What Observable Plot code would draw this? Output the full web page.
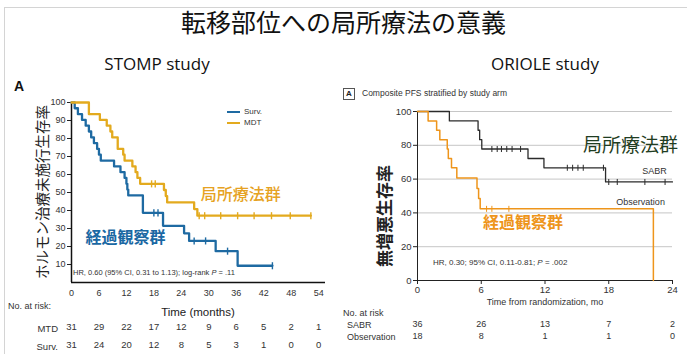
<!DOCTYPE html>
<html><head><meta charset="utf-8">
<script src="https://cdn.jsdelivr.net/npm/d3@7"></script>
<script src="https://cdn.jsdelivr.net/npm/@observablehq/plot@0.6"></script>
<style>
html,body{margin:0;padding:0;background:#fff;}
#wrap{position:relative;width:687px;height:354px;overflow:hidden;background:#fff;font-family:'Liberation Sans',Arial,sans-serif;color:#333;}
.t{position:absolute;white-space:nowrap;line-height:1;}
.rot{transform:translate(-50%,-50%) rotate(-90deg);}
.sv{position:absolute;top:70px;}
.jp{font-family:'Noto Sans CJK JP',sans-serif;}
.lg{display:inline-block;width:13px;height:0;vertical-align:middle;margin-right:4px;}
</style></head><body>
<div id="wrap">
 <div class="t" style="left:4px;top:7px;width:700px;height:400px;border:1px solid #d4d4d4;"></div>
 <div id="left" class="sv" style="left:0"></div>
 <div id="right" class="sv" style="left:340px"></div>

 <div class="t jp" style="left:0;top:9px;width:687px;text-align:center;font-size:25px;color:#111">転移部位への局所療法の意義</div>
 <div class="t" style="left:57px;width:200px;top:55px;text-align:center;font-family:'Open Sans';font-size:17px;color:#111">STOMP study</div>
 <div class="t" style="left:445px;width:200px;top:55px;text-align:center;font-family:'Open Sans';font-size:17px;color:#111">ORIOLE study</div>

 <!-- left panel texts -->
 <div class="t" style="left:14px;top:79px;font-size:14px;font-weight:bold;color:#111">A</div>
 <div class="t jp rot" style="left:42px;top:192px;font-size:14.5px;color:#222">ホルモン治療未施行生存率</div>
 <div class="t" style="left:227px;top:108px;font-size:8px;color:#333"><span class="lg" style="border-top:2.5px solid #1e6aa2"></span>Surv.</div>
 <div class="t" style="left:227px;top:119px;font-size:8px;color:#333"><span class="lg" style="border-top:2.5px solid #e3aa1e"></span>MDT</div>
 <div class="t" style="left:73px;top:269px;font-size:7.5px;color:#333">HR, 0.60 (95% CI, 0.31 to 1.13); log-rank <i>P</i> = .11</div>
 <div class="t" style="left:8px;top:302px;font-size:9px;color:#333">No. at risk:</div>
 <div class="t" style="left:0;width:58px;text-align:right;top:324px;font-size:9.5px;color:#333">MTD</div>
 <div class="t" style="left:0;width:58px;text-align:right;top:342px;font-size:9.5px;color:#333">Surv.</div>
 <div class="t" style="left:98px;width:200px;text-align:center;top:307px;font-size:11.5px;color:#222">Time (months)</div>

 <!-- right panel texts -->
 <div class="t" style="left:343px;top:88px;width:10px;height:10px;border:1px solid #555;font-size:8px;font-weight:bold;text-align:center;line-height:10px;color:#222">A</div>
 <div class="t" style="left:362px;top:89px;font-size:8.5px;color:#333">Composite PFS stratified by study arm</div>
 <div class="t jp rot" style="left:383px;top:216px;font-size:17px;font-weight:bold;color:#222">無増悪生存率</div>
 <div class="t" style="left:433px;top:259px;font-size:8px;color:#333">HR, 0.30; 95% CI, 0.11-0.81; <i>P</i> = .002</div>
 <div class="t" style="left:445px;width:200px;text-align:center;top:298px;font-size:9px;color:#333">Time from randomization, mo</div>
 <div class="t" style="left:343px;top:309px;font-size:9px;color:#333">No. at risk</div>
 <div class="t" style="left:347px;top:321px;font-size:9px;color:#333">SABR</div>
 <div class="t" style="left:347px;top:333px;font-size:9px;color:#333">Observation</div>
</div>
<script>
// ---------- STOMP study (left) ----------
const stompXTicks = [0, 6, 12, 18, 24, 30, 36, 42, 48, 54];
const stompYTicks = [10, 20, 30, 40, 50, 60, 70, 80, 90, 100];
const mdtTime = [0, 3.8, 6.2, 7.7, 8.5, 8.9, 10.1, 11.3, 11.6, 13.3, 14.0, 14.4, 15.0, 20.2, 20.6, 20.9, 26.8, 27.5];
const mdtSurv = [100, 93.5, 90.3, 87.1, 83.9, 80.6, 74.2, 71.0, 67.7, 64.5, 61.3, 58.1, 54.8, 51.4, 48.0, 44.5, 40.8, 37.1];
const mdtCensor = [17.5, 18.3, 27.9, 29.1, 32.6, 36.3, 39.9, 43.7, 47.8, 52.3];
const mdtEnd = 52.3;
const survTime = [0, 0.7, 1.4, 2.3, 3.1, 3.8, 4.3, 4.9, 5.6, 6.0, 6.4, 9.3, 10.7, 11.6, 12.0, 12.2, 12.4, 15.6, 20.0, 24.6, 25.7, 31.5, 36.3];
const survSurv = [100, 96.8, 93.5, 90.3, 87.1, 83.9, 80.6, 77.4, 74.2, 71.0, 67.7, 64.5, 61.3, 58.1, 54.8, 51.6, 48.4, 38.7, 31.5, 27.3, 23.1, 17.4, 9.3];
const survCensor = [18.0, 18.9, 26.8, 29.3, 34.1, 43.9];
const survEnd = 43.9;
const mtdRisk = [31, 29, 22, 17, 12, 9, 6, 5, 2, 1];
const survRisk = [31, 24, 20, 12, 8, 5, 3, 1, 0, 0];

// ---------- ORIOLE study (right) ----------
const oriXTicks = [0, 6, 12, 18, 24];
const oriYTicks = [0, 20, 40, 60, 80, 100];
const sabrTime = [0, 3.0, 5.7, 5.85, 6.05, 10.4, 11.9, 17.7];
const sabrSurv = [100, 94.4, 88.9, 83.3, 77.8, 72.2, 66.7, 58.3];
const sabrCensor = [7.0, 7.5, 7.9, 8.4, 8.9, 9.7, 14.1, 14.6, 15.1, 15.6, 17.5, 18.0, 18.8, 21.4, 23.3];
const sabrEnd = 24;
const obsTime = [0, 1.0, 1.8, 2.1, 2.8, 2.9, 3.2, 3.7, 5.6, 5.75, 5.9, 22.2];
const obsSurv = [100, 94.4, 88.9, 83.3, 77.8, 72.2, 66.7, 60.6, 54.5, 48.5, 42.4, 0];
const obsCensor = [6.5, 7.0, 8.6];
const obsEnd = 22.2;
const sabrRisk = [36, 26, 13, 7, 2];
const obsRisk = [18, 8, 1, 1, 0];

const gold = "#e3aa1e", blue = "#1e6aa2", sabrCol = "#2b2b2b", obsCol = "#ee951b";

function kmLine(times, survs, end) {
  const pts = times.map((t, i) => ({t, s: survs[i]}));
  pts.push({t: end, s: survs[survs.length - 1]});
  return pts;
}
function censorPts(times, survs, cens) {
  return cens.map(t => ({t, s: survs[d3.bisectRight(times, t) - 1]}));
}
const vbar = {draw(ctx, size) { const r = Math.sqrt(size) / 2; ctx.moveTo(0, -r); ctx.lineTo(0, r); }};

const L = Plot.plot({
  width: 340, height: 284,
  marginLeft: 71, marginRight: 15, marginTop: 32, marginBottom: 72,
  style: {background: "transparent", fontFamily: "'Liberation Sans', Arial, sans-serif", color: "#333", overflow: "visible"},
  x: {domain: [0, 55.5]},
  y: {domain: [0, 100]},
  marks: [
    Plot.axisY({ticks: stompYTicks, tickSize: 4, tickPadding: 2, fontSize: 9, label: null, stroke: "#222"}),
    Plot.axisX({ticks: stompXTicks, tickSize: 0, tickPadding: 7, fontSize: 9, label: null}),
    Plot.ruleY([0], {stroke: "#111", strokeWidth: 1.5}),
    Plot.ruleX([0], {stroke: "#111", strokeWidth: 1.5}),
    Plot.line(kmLine(survTime, survSurv, survEnd), {x: "t", y: "s", curve: "step-after", stroke: blue, strokeWidth: 2.3}),
    Plot.line(kmLine(mdtTime, mdtSurv, mdtEnd), {x: "t", y: "s", curve: "step-after", stroke: gold, strokeWidth: 2.3}),
    Plot.dot(censorPts(survTime, survSurv, survCensor), {x: "t", y: "s", symbol: vbar, r: 4, stroke: blue, strokeWidth: 1.4}),
    Plot.dot(censorPts(mdtTime, mdtSurv, mdtCensor), {x: "t", y: "s", symbol: vbar, r: 4, stroke: gold, strokeWidth: 1.4}),
    Plot.text(mtdRisk, {x: (d, i) => stompXTicks[i], text: d => String(d), frameAnchor: "bottom", dy: 47, fontSize: 9.5, fill: "#333"}),
    Plot.text(survRisk, {x: (d, i) => stompXTicks[i], text: d => String(d), frameAnchor: "bottom", dy: 65, fontSize: 9.5, fill: "#333"}),
    Plot.text(["局所療法群"], {x: 37, y: 48.6, fontSize: 16, fontWeight: 500, fill: "#e6a223", fontFamily: "'Noto Sans CJK JP'"}),
    Plot.text(["経過観察群"], {x: 11.8, y: 24.7, fontSize: 16, fontWeight: "bold", fill: "#1a68a3", fontFamily: "'Noto Sans CJK JP'"})
  ]
});
document.getElementById("left").appendChild(L);

const R = Plot.plot({
  width: 347, height: 284,
  marginLeft: 77, marginRight: 15, marginTop: 41, marginBottom: 74,
  style: {background: "transparent", fontFamily: "'Liberation Sans', Arial, sans-serif", color: "#333", overflow: "visible"},
  x: {domain: [0, 24]},
  y: {domain: [0, 100]},
  marks: [
    Plot.gridY({ticks: oriYTicks.filter(v => v > 0), stroke: "#b8b8b8", strokeOpacity: 1, strokeWidth: 0.8}),
    Plot.axisY({ticks: oriYTicks, tickSize: 4, tickPadding: 2, fontSize: 9.5, label: null, stroke: "#222"}),
    Plot.axisX({ticks: oriXTicks, tickSize: 4, tickPadding: 2, fontSize: 9.5, label: null, stroke: "#222"}),
    Plot.ruleY([0], {stroke: "#222", strokeWidth: 1}),
    Plot.ruleX([0], {stroke: "#222", strokeWidth: 1}),
    Plot.line(kmLine(sabrTime, sabrSurv, sabrEnd), {x: "t", y: "s", curve: "step-after", stroke: sabrCol, strokeWidth: 1.3}),
    Plot.line(kmLine(obsTime, obsSurv, obsEnd), {x: "t", y: "s", curve: "step-after", stroke: obsCol, strokeWidth: 1.5}),
    Plot.dot(censorPts(sabrTime, sabrSurv, sabrCensor), {x: "t", y: "s", symbol: vbar, r: 3.4, stroke: sabrCol, strokeWidth: 1}),
    Plot.dot(censorPts(obsTime, obsSurv, obsCensor), {x: "t", y: "s", symbol: vbar, r: 3.4, stroke: obsCol, strokeWidth: 1}),
    Plot.text(sabrRisk, {x: (d, i) => oriXTicks[i], text: d => String(d), frameAnchor: "bottom", dy: 46, fontSize: 9, fill: "#333"}),
    Plot.text(obsRisk, {x: (d, i) => oriXTicks[i], text: d => String(d), frameAnchor: "bottom", dy: 58, fontSize: 9, fill: "#333"}),
    Plot.text(["局所療法群"], {x: 20.05, y: 79.9, fontSize: 19, fill: "#1f3d22", fontFamily: "'Noto Sans CJK JP'"}),
    Plot.text(["SABR"], {x: 22.3, y: 65, fontSize: 9, fill: "#333"}),
    Plot.text(["Observation"], {x: 21, y: 46.3, fontSize: 9, fill: "#333"}),
    Plot.text(["経過観察群"], {x: 9.93, y: 34.3, fontSize: 16, fontWeight: "bold", fill: obsCol, fontFamily: "'Noto Sans CJK JP'"})
  ]
});
document.getElementById("right").appendChild(R);
</script>
</body></html>
